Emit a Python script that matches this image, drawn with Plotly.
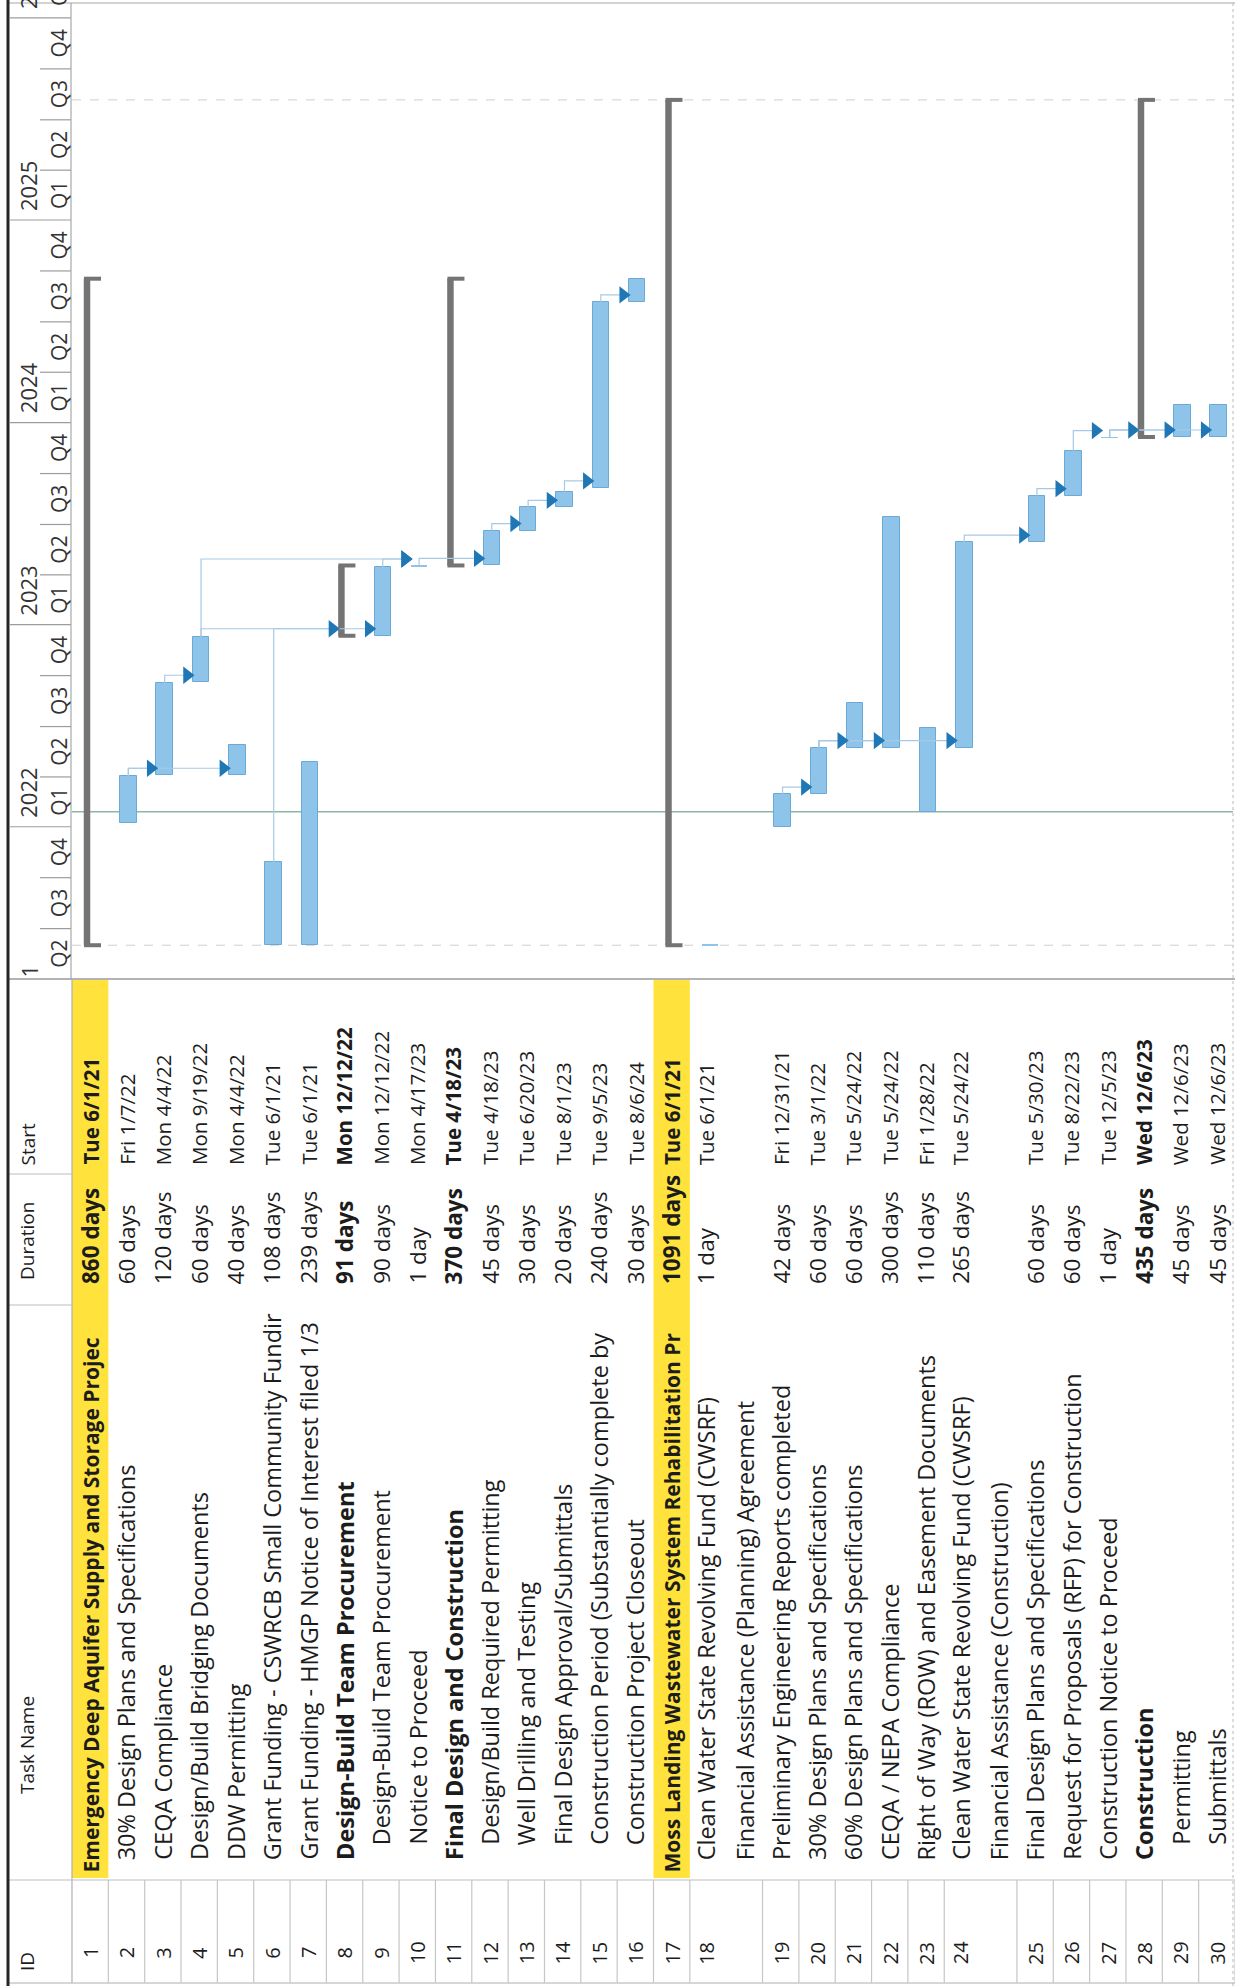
import pandas as pd
import plotly.graph_objects as go

# ---------------------------------------------------------------- page size
W, H = 1235, 1986

# ---------------------------------------------------------------- task table
task_ids = list(range(1, 31))
task_names = [
    "Emergency Deep Aquifer Supply and Storage Projec",
    "30% Design Plans and Specifications",
    "CEQA Compliance",
    "Design/Build Bridging Documents",
    "DDW Permitting",
    "Grant Funding - CSWRCB Small Community Fundir",
    "Grant Funding - HMGP Notice of Interest filed 1/3",
    "Design-Build Team Procurement",
    "Design-Build Team Procurement",
    "Notice to Proceed",
    "Final Design and Construction",
    "Design/Build Required Permitting",
    "Well Drilling and Testing",
    "Final Design Approval/Submittals",
    "Construction Period (Substantially complete by",
    "Construction Project Closeout",
    "Moss Landing Wastewater System Rehabilitation Pr",
    "Clean Water State Revolving Fund (CWSRF)",
    "Preliminary Engineering Reports completed",
    "30% Design Plans and Specifications",
    "60% Design Plans and Specifications",
    "CEQA / NEPA Compliance",
    "Right of Way (ROW) and Easement Documents",
    "Clean Water State Revolving Fund (CWSRF)",
    "Final Design Plans and Specifications",
    "Request for Proposals (RFP) for Construction",
    "Construction Notice to Proceed",
    "Construction",
    "Permitting",
    "Submittals",
]
name_second_lines = {
    18: "Financial Assistance (Planning) Agreement",
    24: "Financial Assistance (Construction)",
}
durations = [
    "860 days", "60 days", "120 days", "60 days", "40 days", "108 days",
    "239 days", "91 days", "90 days", "1 day", "370 days", "45 days",
    "30 days", "20 days", "240 days", "30 days", "1091 days", "1 day",
    "42 days", "60 days", "60 days", "300 days", "110 days", "265 days",
    "60 days", "60 days", "1 day", "435 days", "45 days", "45 days",
]
start_labels = [
    "Tue 6/1/21", "Fri 1/7/22", "Mon 4/4/22", "Mon 9/19/22", "Mon 4/4/22",
    "Tue 6/1/21", "Tue 6/1/21", "Mon 12/12/22", "Mon 12/12/22", "Mon 4/17/23",
    "Tue 4/18/23", "Tue 4/18/23", "Tue 6/20/23", "Tue 8/1/23", "Tue 9/5/23",
    "Tue 8/6/24", "Tue 6/1/21", "Tue 6/1/21", "Fri 12/31/21", "Tue 3/1/22",
    "Tue 5/24/22", "Tue 5/24/22", "Fri 1/28/22", "Tue 5/24/22", "Tue 5/30/23",
    "Tue 8/22/23", "Tue 12/5/23", "Wed 12/6/23", "Wed 12/6/23", "Wed 12/6/23",
]
# last working day of each task
finish_dates = [
    "2024-09-16", "2022-04-01", "2022-09-16", "2022-12-09", "2022-05-27",
    "2021-10-28", "2022-04-27", "2023-04-17", "2023-04-14", "2023-04-17",
    "2024-09-16", "2023-06-19", "2023-07-31", "2023-08-28", "2024-08-05",
    "2024-09-16", "2025-08-05", "2021-06-01", "2022-02-28", "2022-05-23",
    "2022-08-12", "2023-07-14", "2022-06-27", "2023-05-29", "2023-08-21",
    "2023-11-10", "2023-12-05", "2025-08-05", "2024-02-01", "2024-02-01",
]
outline_levels = [1, 2, 2, 2, 2, 2, 2, 2, 3, 3, 2, 3, 3, 3, 3, 3,
                  1, 2, 2, 2, 2, 2, 2, 2, 2, 2, 2, 2, 3, 3]
summary_ids = [1, 8, 11, 17, 28]
highlight_ids = [1, 17]
links = [(2, 3), (2, 5), (3, 4), (4, 9), (6, 8), (4, 10), (9, 10), (10, 12),
         (12, 13), (13, 14), (14, 15), (15, 16),
         (19, 20), (20, 21), (20, 22), (20, 24), (24, 25), (25, 26),
         (26, 27), (27, 28), (27, 29), (27, 30)]
status_date = "2022-01-28"
project_start = "2021-06-01"
project_finish = "2025-08-06"
header_labels = ["ID", "Task Name", "Duration", "Start"]

# ---------------------------------------------------------------- geometry
TIME_BOTTOM, TIME_TOP = "2021-04-01", "2026-01-28"
GANTT_TOP_PX, GANTT_BOTTOM_PX = 3, 979
X_LEFT_PX = 72
ROW_PX = (W - X_LEFT_PX) / 32.0
PX_PER_DAY = (GANTT_BOTTOM_PX - GANTT_TOP_PX) / (
    pd.Timestamp(TIME_TOP) - pd.Timestamp(TIME_BOTTOM)).days


def ux(px):
    """page pixel column -> row-unit x coordinate"""
    return (px - X_LEFT_PX) / ROW_PX


FONT = "Open Sans, Noto Sans, sans-serif"
FS_NAME, FS_TOP_NAME, FS_DUR, FS_DATE = 23.5, 21, 22.5, 20.5
FS_ID, FS_HEAD, FS_YEAR, FS_QTR = 20, 19, 22, 21
TXT = "#1c1c1c"
BAR_FILL, BAR_LINE = "#8EC4EA", "#6AAAD9"
ARROW_C, LINK_C = "#1F77B6", "#A8C9E6"
SUMMARY_C = "#747474"

row_span = [2 if t in name_second_lines else 1 for t in task_ids]
row_left = {}
acc = 0.0
for t, s in zip(task_ids, row_span):
    row_left[t] = acc
    acc += s

starts = {t: pd.to_datetime(lbl.split()[1], format="%m/%d/%y")
          for t, lbl in zip(task_ids, start_labels)}
ends = {t: pd.Timestamp(f) + pd.Timedelta(days=1)
        for t, f in zip(task_ids, finish_dates)}

fig = go.Figure()

# ---------------------------------------------------------------- task bars
bar_ids = [t for t in task_ids if t not in summary_ids]
fig.add_trace(go.Bar(
    x=[row_left[t] + ux(X_LEFT_PX + 20) for t in bar_ids],
    y=[(ends[t] - starts[t]) / pd.Timedelta(milliseconds=1) for t in bar_ids],
    base=[starts[t].strftime("%Y-%m-%d") for t in bar_ids],
    width=16.5 / ROW_PX,
    marker=dict(color=BAR_FILL,
                line=dict(color=BAR_LINE,
                          width=[0 if (ends[t] - starts[t]).days <= 1 else 1
                                 for t in bar_ids])),
    hoverinfo="skip", xaxis="x", yaxis="y",
))

# ---------------------------------------------------------------- summary brackets
sx, sy, cx, cy = [], [], [], []
for t in summary_ids:
    xl = row_left[t]
    sx += [xl + ux(X_LEFT_PX + 15), xl + ux(X_LEFT_PX + 15), None]
    sy += [starts[t], ends[t], None]
    for d in (starts[t], ends[t]):
        cx += [xl + ux(X_LEFT_PX + 12), xl + ux(X_LEFT_PX + 29), None]
        cy += [d, d, None]
fig.add_trace(go.Scatter(x=sx, y=sy, mode="lines",
                         line=dict(color=SUMMARY_C, width=6.5),
                         hoverinfo="skip"))
fig.add_trace(go.Scatter(x=cx, y=cy, mode="lines",
                         line=dict(color=SUMMARY_C, width=4),
                         hoverinfo="skip"))

# ---------------------------------------------------------------- dependency links
ARROW_LIFT = pd.Timedelta(days=7 / PX_PER_DAY)
lx, ly, ax_, ay_ = [], [], [], []
for p, s in links:
    px_ = row_left[p] + ux(X_LEFT_PX + 20)
    level = starts[s] + ARROW_LIFT
    tip = row_left[s] + ux(X_LEFT_PX + 6)
    lx += [px_, px_, tip, None]
    ly += [ends[p], level, level, None]
    ax_.append(tip)
    ay_.append(level)
fig.add_trace(go.Scatter(x=lx, y=ly, mode="lines",
                         line=dict(color=LINK_C, width=1.2),
                         hoverinfo="skip"))
fig.add_trace(go.Scatter(x=ax_, y=ay_, mode="markers",
                         marker=dict(symbol="triangle-right", size=15,
                                     color=ARROW_C),
                         hoverinfo="skip"))

# ---------------------------------------------------------------- shapes
shapes = []
X_MIN, X_MAX = ux(0), ux(W)


def pline(x0, y0, x1, y1, color, width=1, dash=None):
    """line in page pixels"""
    shapes.append(dict(type="line", xref="paper", yref="paper",
                       x0=x0 / W, x1=x1 / W, y0=1 - y0 / H, y1=1 - y1 / H,
                       line=dict(color=color, width=width, dash=dash),
                       layer="above"))


# yellow highlight on top-level summary rows
for t in highlight_ids:
    shapes.append(dict(type="rect", xref="x", yref="y2",
                       x0=row_left[t], x1=row_left[t] + 1, y0=980, y1=1878,
                       fillcolor="#FFE23C", line=dict(width=0), layer="below"))

# timescale dividers
quarters = pd.date_range("2021-04-01", "2026-01-01", freq="QS")
for q in quarters[1:]:
    x0 = ux(10) if q.month == 1 else ux(40)
    shapes.append(dict(type="line", xref="x", yref="y", x0=x0, x1=ux(71),
                       y0=q, y1=q, line=dict(color="#9C9C9C", width=1.2)))

# current-date, project start and project finish lines
shapes.append(dict(type="line", xref="x", yref="y", x0=ux(72), x1=ux(1233),
                   y0=status_date, y1=status_date, layer="below",
                   line=dict(color="#8DB7A1", width=1.5)))
for d in (project_start, project_finish):
    shapes.append(dict(type="line", xref="x", yref="y", x0=ux(72), x1=ux(1233),
                       y0=d, y1=d, layer="below",
                       line=dict(color="#CFCFCF", width=1, dash="dash")))

# frame and table rules
pline(8, GANTT_TOP_PX, W, GANTT_TOP_PX, "#A8A8A8", 1.2)
pline(71, GANTT_TOP_PX, 71, GANTT_BOTTOM_PX, "#A8A8A8", 1.2)
pline(8, GANTT_BOTTOM_PX, W, GANTT_BOTTOM_PX, "#9A9A9A", 1.6)
pline(1233, GANTT_TOP_PX, 1233, H, "#B8B8B8", 1, "dot")
pline(72, GANTT_BOTTOM_PX, 72, 1983, "#B0B0B0", 1.2)
pline(8, 1880, W, 1880, "#BDBDBD", 1.2)
pline(8, 1305, 72, 1305, "#BDBDBD", 1.2)
pline(8, 1174, 72, 1174, "#BDBDBD", 1.2)
pline(8, 1983, W, 1983, "#B0B0B0", 1.2)
pline(8, 0, 8, H, "#262626", 3)
for t in task_ids:
    xr = row_left[t] + row_span[t - 1]
    shapes.append(dict(type="line", xref="x", yref="y2", x0=xr, x1=xr,
                       y0=1880, y1=1983,
                       line=dict(color="#C6C6C6", width=1.2)))

# ---------------------------------------------------------------- text
annotations = []


def vtext(x, y, text, yanchor, xref="x", yref="y2", size=FS_NAME, bold=False,
          yshift=0, color=TXT):
    annotations.append(dict(
        x=x, y=y, xref=xref, yref=yref,
        text=f"<b>{text}</b>" if bold else text,
        textangle=-90, showarrow=False, xanchor="center", yanchor=yanchor,
        yshift=yshift, borderpad=0,
        font=dict(family=FONT, size=size, color=color)))


# timescale header
for q in quarters[:-1]:
    mid = q + (q + pd.offsets.QuarterBegin(startingMonth=1) - q) / 2
    vtext(ux(59), mid, f"Q{q.quarter}", "middle", yref="y", size=FS_QTR,
          color="#333333")
for y in range(2022, 2027):
    vtext(ux(28), f"{y}-01-01", str(y), "bottom", yref="y", size=FS_YEAR,
          yshift=8, color="#333333")
vtext(ux(28), TIME_BOTTOM, "1", "bottom", yref="y", size=FS_YEAR,
      color="#333333")
vtext(ux(59), TIME_TOP, "Q1", "middle", yref="y", size=FS_QTR, yshift=11,
      color="#333333")

# table header
vtext(ux(27), 1962, header_labels[0], "middle", size=FS_HEAD)
vtext(ux(27), 1795, header_labels[1], "bottom", size=FS_HEAD)
vtext(ux(27), 1281, header_labels[2], "bottom", size=FS_HEAD)
vtext(ux(27), 1167, header_labels[3], "bottom", size=FS_HEAD)

name_base = {1: 1874, 2: 1861, 3: 1846}
for i, t in enumerate(task_ids):
    xl = row_left[t]
    first = xl + (16 if row_span[i] == 2 else 18) / ROW_PX
    bold = t in summary_ids
    level = outline_levels[i]
    vtext(first, 1953, str(t), "middle", size=FS_ID)
    vtext(first, name_base[level], task_names[i], "bottom", bold=bold,
          size=FS_TOP_NAME if level == 1 else FS_NAME)
    if t in name_second_lines:
        vtext(xl + 55 / ROW_PX, name_base[level],
              name_second_lines[t], "bottom")
    vtext(first, 1285, durations[i], "bottom", size=FS_DUR, bold=bold)
    vtext(first, 1166, start_labels[i], "bottom", size=FS_DATE, bold=bold)

fig.update_layout(
    width=W, height=H, margin=dict(l=0, r=0, t=0, b=0),
    paper_bgcolor="white", plot_bgcolor="rgba(0,0,0,0)", showlegend=False,
    bargap=0, shapes=shapes, annotations=annotations,
    xaxis=dict(range=[X_MIN, X_MAX], domain=[0, 1], visible=False,
               fixedrange=True),
    yaxis=dict(type="date", range=[TIME_BOTTOM, TIME_TOP],
               domain=[(H - GANTT_BOTTOM_PX) / H, (H - GANTT_TOP_PX) / H],
               visible=False, fixedrange=True),
    yaxis2=dict(range=[H, 0], domain=[0, 1], visible=False, anchor="x",
                fixedrange=True),
)

fig.write_html("out.html")
